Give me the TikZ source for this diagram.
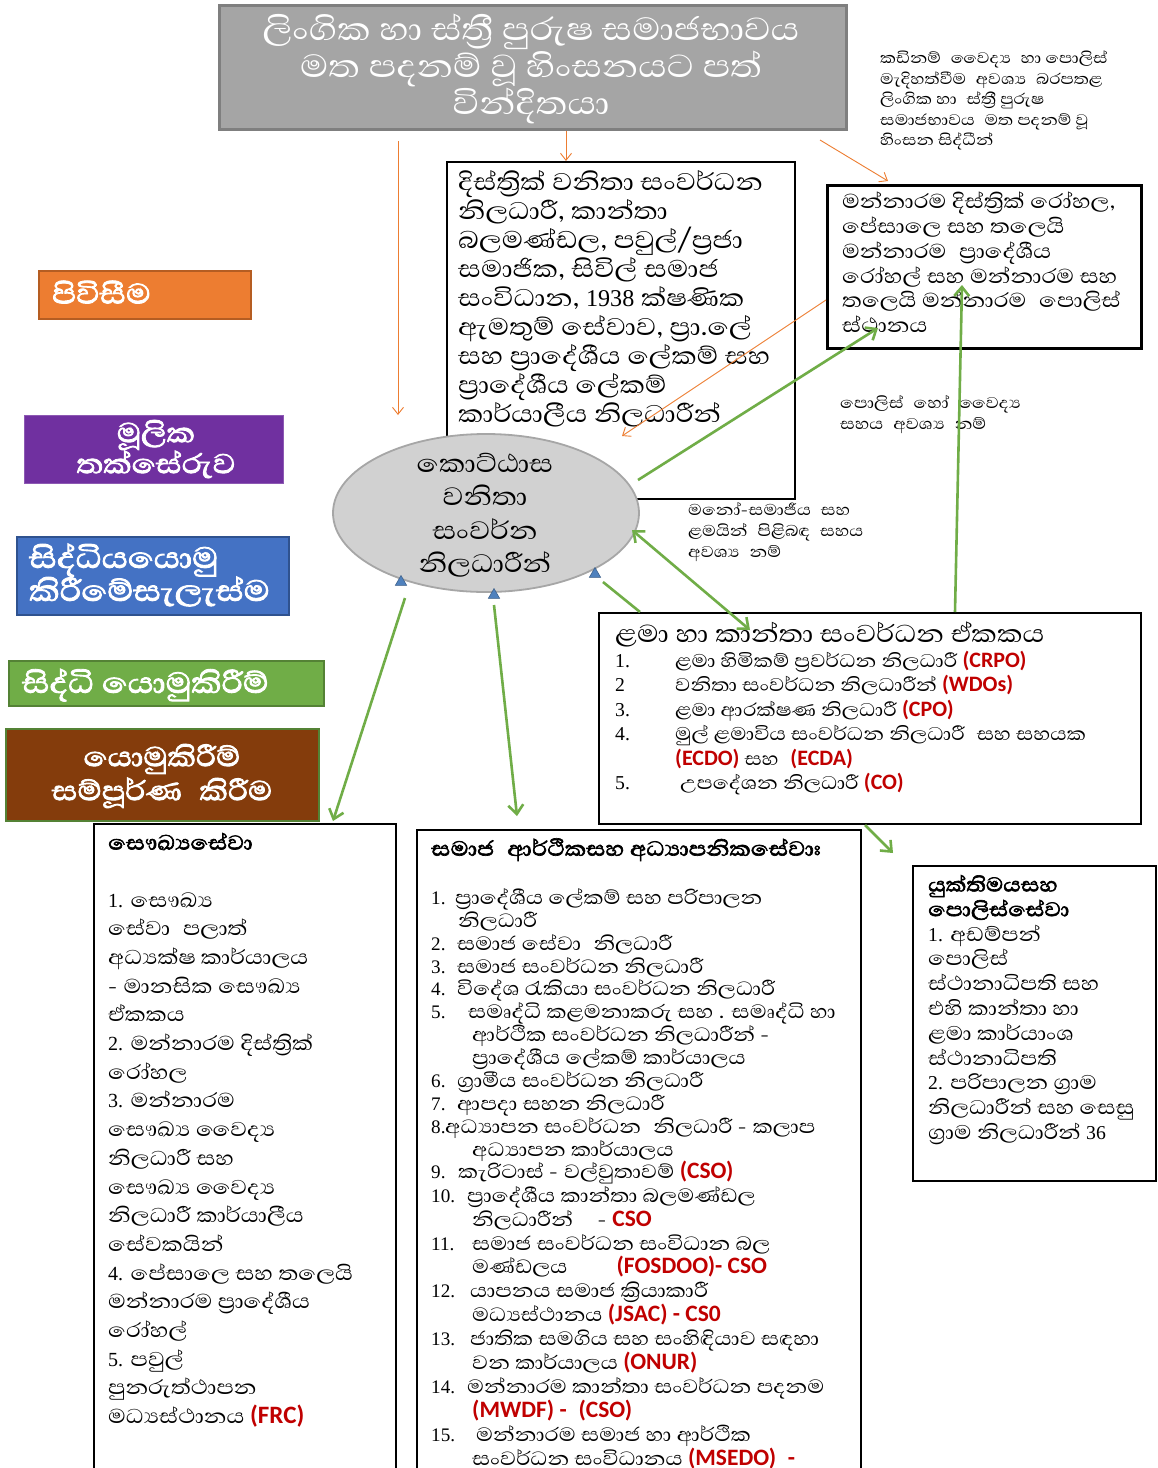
\documentclass[tikz,border=0pt]{standalone}
\usepackage{fontspec}
\setmainfont{Abhaya Libre}[Script=Sinhala, AutoFakeBold=2.5, Numbers=Lining, FakeStretch=1.15]
\newfontfamily\lat{Carlito}
\newfontfamily\dgf{Liberation Serif}[Scale=0.78]
\usetikzlibrary{arrows.meta,shapes.geometric}
\definecolor{gline}{HTML}{70AD47}
\definecolor{oline}{HTML}{ED7D31}
\definecolor{redt}{HTML}{C00000}
\definecolor{tgray}{HTML}{A5A5A5}
\definecolor{tgrayd}{HTML}{7F7F7F}
\definecolor{lorange}{HTML}{ED7D31}
\definecolor{lorangeD}{HTML}{B55D22}
\definecolor{lpurple}{HTML}{7030A0}
\definecolor{lblue}{HTML}{4472C4}
\definecolor{lblueD}{HTML}{2F528F}
\definecolor{lgreen}{HTML}{70AD47}
\definecolor{lgreenD}{HTML}{548235}
\definecolor{lbrown}{HTML}{843C0C}
\definecolor{tri}{HTML}{4F81BD}
\def\rdsize{22}
\newcommand\rd[1]{{\lat\bfseries\color{redt}\fontsize{\rdsize}{\baselineskip}\selectfont #1}}
\newcommand\dg[1]{{\dgf #1}}
\newcommand\fs[2]{\pgfmathsetmacro\myfsz{#1*0.87}\fontsize{\myfsz}{#2}\selectfont\lineskiplimit=-1000pt\lineskip=0pt\relax}
\newcommand\fl[1]{\rule{0pt}{#1pt}}
\newcommand\nb[2]{\makebox[#1pt][l]{\dg{#2}}}
\tikzset{
  blk/.style={draw=black, line width=2pt, anchor=north west, inner sep=0pt, fill=white},
  txt/.style={anchor=north west, inner sep=0pt, align=left},
  leg/.style={anchor=north west, inner sep=0pt, line width=2pt},
  ltxt/.style={inner sep=0pt, text=white},
  garr/.style={draw=gline, line width=2.6pt, -{Straight Barb[length=9pt,width=15pt]}},
  gdbl/.style={draw=gline, line width=2.6pt, {Straight Barb[length=9pt,width=15pt]}-{Straight Barb[length=9pt,width=15pt]}},
  gplain/.style={draw=gline, line width=2.6pt},
  oarr/.style={draw=oline, line width=0.9pt, -{Straight Barb[length=7pt,width=11pt]}},
  bluetri/.style={regular polygon, regular polygon sides=3, fill=tri, draw=tri!70!black, line width=0.5pt, minimum size=13pt, inner sep=0pt}
}
\begin{document}
\begin{tikzpicture}[x=1pt,y=-1pt]
\useasboundingbox (0,0) rectangle (1158,1468);
\fill[white] (0,0) rectangle (1158,1468);

% title
\node[anchor=north west, inner sep=0pt, fill=tgray, draw=tgrayd, line width=3pt, minimum width=627pt, minimum height=124pt] (title) at (218,4) {};
\node[anchor=north, inner sep=0pt, align=center, text=white, font=\fs{47}{37}] (titletxt) at (531,-11.5) {\fl{51.7}ලිංගික හා ස්ත්‍රී පුරුෂ සමාජභාවය\\මත පදනම් වූ හිංසනයට පත්\\වින්දිතයා};

% top right note
\node[txt, font=\fs{22.5}{20.5}] (note1) at (880,38.9) {\fl{24.75}කඩිනම්\enspace වෛද්‍ය\enspace හා පොලිස්\\මැදිහත්වීම\enspace අවශ්‍ය\enspace බරපතළ\\ලිංගික හා\enspace ස්ත්‍රී පුරුෂ\\සමාජභාවය\enspace මත පදනම් වූ\\හිංසන සිද්ධීන්};

% district box
\node[blk, minimum width=348pt, minimum height=337pt] (dist) at (446,161) {};
\node[txt, font=\fs{35.5}{29}] (disttxt) at (458,150.9) {\fl{39}දිස්ත්‍රික් වනිතා සංවර්ධන\\නිලධාරී, කාන්තා\\බලමණ්ඩල, පවුල්/ප්‍රජා\\සමාජික, සිවිල් සමාජ\\සංවිධාන, \dg{1938} ක්ෂණික\\ඇමතුම් සේවාව, ප්‍රා.ලේ\\සහ ප්‍රාදේශීය ලේකම් සහ\\ප්‍රාදේශීය ලේකම්\\කාර්යාලීය නිලධාරීන්};

% right hospital box
\node[blk, line width=3pt, minimum width=314pt, minimum height=163pt] (hosp) at (826,184) {};
\node[txt, font=\fs{29.5}{24.8}] (hosptxt) at (842,175.9) {\fl{32.5}මන්නාරම දිස්ත්‍රික් රෝහල,\\පේසාලෙ සහ තලෙයි\\මන්නාරම\enspace ප්‍රාදේශීය\\රෝහල් සහ මන්නාරම සහ\\තලෙයි මන්නාරම\enspace පොලිස්\\ස්ථානය};

% notes
\node[txt, font=\fs{23}{21}] (note2) at (840,383.4) {\fl{25.3}පොලිස්\enspace හෝ\enspace වෛද්‍ය\\සහය\enspace අවශ්‍ය\enspace නම්};
\node[txt, font=\fs{23}{21}] (note3) at (688,490.4) {\fl{25.3}මනෝ-සමාජීය\enspace සහ\\ළමයින්\enspace පිළිබඳ\enspace සහය\\අවශ්‍ය\enspace නම්};

% ellipse
\node[ellipse, fill=black!18, draw=black!35, line width=1.8pt, minimum width=306pt, minimum height=158pt, inner sep=0pt] (ell) at (486,513) {};
\node[anchor=north, inner sep=0pt, align=center, font=\fs{37}{33.3}] (elltxt) at (485,431.6) {\fl{40.7}කොට්ඨාස\\වනිතා\\සංවර්න\\නිලධාරීන්};

% legend
\node[leg, fill=lorange, draw=lorangeD, minimum width=212pt, minimum height=48pt] (lg1) at (38,270) {};
\node[ltxt, anchor=north west, font=\bfseries\fs{41}{30}] (lg1t) at (52,258.2) {\fl{45.1}පිවිසීම};
\node[leg, fill=lpurple, draw=lpurple!80!white, line width=1pt, minimum width=259pt, minimum height=68pt] (lg2) at (24,415) {};
\node[ltxt, anchor=north, align=center, font=\bfseries\fs{40}{31}] (lg2t) at (156,398) {\fl{44}මූලික\\තක්සේරුව};
\node[leg, fill=lblue, draw=lblueD, minimum width=272pt, minimum height=78pt] (lg3) at (16,536) {};
\node[ltxt, anchor=north west, align=left, font=\bfseries\fs{43}{33}] (lg3t) at (29,520.4) {\fl{47.3}සිද්ධියයොමු\\කිරීමේසැලැස්ම};
\node[leg, fill=lgreen, draw=lgreenD, minimum width=315pt, minimum height=45pt] (lg4) at (8,660) {};
\node[ltxt, anchor=north west, font=\bfseries\fs{42.5}{32}] (lg4t) at (22,645.9) {\fl{46.75}සිද්ධි යොමුකිරීම්};
\node[leg, fill=lbrown, draw=lgreenD, minimum width=313pt, minimum height=92pt] (lg5) at (5,728) {};
\node[ltxt, anchor=north, align=center, font=\bfseries\fs{40}{34}] (lg5t) at (162,722) {\fl{44}යොමුකිරීම්\\සම්පූර්ණ\enspace කිරීම};

% child unit box
\node[blk, minimum width=542pt, minimum height=211pt] (child) at (598,612) {};
\node[txt, font=\fs{36}{26}] (childh) at (615,602.4) {\fl{39.6}ළමා හා කාන්තා සංවර්ධන ඒකකය};
\node[txt, font=\fs{29}{24.5}] (childn) at (615,637.1) {\fl{29.7}\dg{1.}\\\dg{2}\\\dg{3.}\\\dg{4.}\\\\\dg{5.}};
\def\rdsize{22}
\node[txt, font=\fs{27}{24.5}] (childi) at (675,637.1) {\fl{29.7}ළමා හිමිකම් ප්‍රවර්ධන නිලධාරී \rd{(CRPO)}\\වනිතා සංවර්ධන නිලධාරීන් \rd{(WDOs)}\\ළමා ආරක්ෂණ නිලධාරී \rd{(CPO)}\\මුල් ළමාවිය සංවර්ධන නිලධාරී\enspace සහ සහයක\\\rd{(ECDO)} සහ\enspace\rd{(ECDA)}\\\hspace*{5pt}උපදේශන නිලධාරී \rd{(CO)}};

% health box
\node[blk, minimum width=302pt, minimum height=660pt] (health) at (93,823) {};
\def\rdsize{25}
\node[txt, font=\fs{29.5}{28.7}] (healtht) at (108,816.9) {\fl{32.5}{\bfseries සෞඛ්‍යසේවා}\\\\\dg{1.} සෞඛ්‍ය\\සේවා\enspace පලාත්\\අධ්‍යක්ෂ කාර්යාලය\\- මානසික සෞඛ්‍ය\\ඒකකය\\\dg{2.} මන්නාරම දිස්ත්‍රික්\\රෝහල\\\dg{3.} මන්නාරම\\සෞඛ්‍ය වෛද්‍ය\\නිලධාරී සහ\\සෞඛ්‍ය වෛද්‍ය\\නිලධාරී කාර්යාලීය\\සේවකයින්\\\dg{4.} පේසාලෙ සහ තලෙයි\\මන්නාරම ප්‍රාදේශීය\\රෝහල්\\\dg{5.} පවුල්\\පුනරුත්ථාපන\\මධ්‍යස්ථානය \rd{(FRC)}};

% social box
\node[blk, minimum width=444pt, minimum height=660pt] (social) at (416,829) {};
\node[txt, font=\bfseries\fs{30}{24}] (socialh) at (431,822.5) {\fl{33}සමාජ\enspace ආර්ථිකසහ අධ්‍යාපනිකසේවාඃ};
\node[txt, font=\fs{28.2}{22.9}] (social1) at (431,873.1) {\fl{31}\nb{24}{1.}ප්‍රාදේශීය ලේකම් සහ පරිපාලන\\\hspace*{27pt}නිලධාරී\\\nb{26}{2.}සමාජ සේවා\enspace නිලධාරී\\\nb{26}{3.}සමාජ සංවර්ධන නිලධාරී\\\nb{26}{4.}විදේශ රැකියා සංවර්ධන නිලධාරී\\\nb{37}{5.}සමෘද්ධි කළමනාකරු සහ . සමෘද්ධි හා\\\hspace*{41pt}ආර්ථික සංවර්ධන නිලධාරීන් -\\\hspace*{41pt}ප්‍රාදේශීය ලේකම් කාර්යාලය\\\nb{26}{6.}ග්‍රාමීය සංවර්ධන නිලධාරී\\\nb{26}{7.}ආපදා සහන නිලධාරී\\\nb{14}{8.}අධ්‍යාපන සංවර්ධන\enspace නිලධාරී - කලාප\\\hspace*{41pt}අධ්‍යාපන කාර්යාලය};
\def\rdsize{23.5}
\node[txt, font=\fs{28.2}{23.9}] (social2) at (431,1147.1) {\fl{31}\nb{27}{9.}කැරිටාස් - වල්වුතාවම් \rd{(CSO)}\\\nb{36}{10.}ප්‍රාදේශීය කාන්තා බලමණ්ඩල\\\hspace*{41pt}නිලධාරීන්\quad - \rd{CSO}\\\nb{41}{11.}සමාජ සංවර්ධන සංවිධාන බල\\\hspace*{41pt}මණ්ඩලය\qquad\rd{(FOSDOO)- CSO}\\\nb{39}{12.}යාපනය සමාජ ක්‍රියාකාරී\\\hspace*{41pt}මධ්‍යස්ථානය \rd{(JSAC) - CS0}\\\nb{39}{13.}ජාතික සමගිය සහ සංහිඳියාව සඳහා\\\hspace*{41pt}වන කාර්යාලය \rd{(ONUR)}\\\nb{36}{14.}මන්නාරම කාන්තා සංවර්ධන පදනම\\\hspace*{41pt}\rd{(MWDF) -\enspace(CSO)}\\\nb{45}{15.}මන්නාරම සමාජ හා ආර්ථික\\\hspace*{41pt}සංවර්ධන සංවිධානය \rd{(MSEDO)\enspace -}};

% justice box
\node[blk, minimum width=243pt, minimum height=315pt] (just) at (912,865) {};
\node[txt, font=\fs{29}{24.8}] (justt) at (928,859.3) {\fl{31.9}{\bfseries යුක්තිමයසහ}\\{\bfseries පොලිස්සේවා}\\\dg{1.} අඩම්පන්\\පොලිස්\\ස්ථානාධිපති සහ\\එහි කාන්තා හා\\ළමා කාර්යාංශ\\ස්ථානාධිපති\\\dg{2.} පරිපාලන ග්‍රාම\\නිලධාරීන් සහ සෙසු\\ග්‍රාම නිලධාරීන් \dg{36}};

% connector end points
\coordinate (o1a) at (398,141);
\coordinate (o1b) at (398,415);
\coordinate (o2a) at (title.south -| 566,0);
\coordinate (o2b) at (dist.north -| 566,0);
\coordinate (o3a) at (820,140);
\coordinate (o3b) at (888,181);
\coordinate (o4a) at (826,300);
\coordinate (o4b) at (622,436);
\coordinate (g1a) at (638,480);
\coordinate (g1b) at (878,328);
\coordinate (g2a) at (955,612);
\coordinate (g2b) at (962,285);
\coordinate (g3a) at (632,530);
\coordinate (g3b) at (750,630);
\coordinate (g4a) at (640,612);
\coordinate (g4b) at (603,582);
\coordinate (g5a) at (405,598);
\coordinate (g5b) at (333,821);
\coordinate (g6a) at (494,605);
\coordinate (g6b) at (517,816);
\coordinate (g7a) at (865,825);
\coordinate (g7b) at (893,853);

\draw[oarr] (o1a) -- (o1b);
\draw[oarr] (o2a) -- (o2b);
\draw[oarr] (o3a) -- (o3b);
\draw[oarr] (o4a) -- (o4b);
\draw[garr] (g1a) -- (g1b);
\draw[garr] (g2a) -- (g2b);
\draw[gdbl] (g3a) -- (g3b);
\draw[gplain] (g4a) -- (g4b);
\draw[garr] (g5a) -- (g5b);
\draw[garr] (g6a) -- (g6b);
\draw[garr] (g7a) -- (g7b);

\node[bluetri] (t1) at (401,582) {};
\node[bluetri] (t2) at (494,595) {};
\node[bluetri] (t3) at (595,574) {};
\end{tikzpicture}
\end{document}
